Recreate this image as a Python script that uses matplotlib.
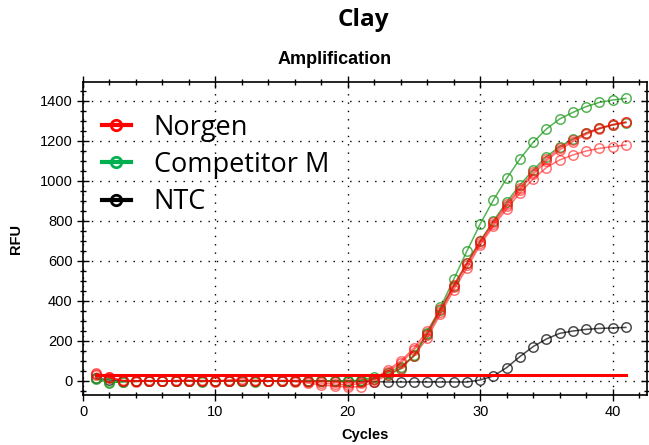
import matplotlib
matplotlib.use("Agg")
import matplotlib.pyplot as plt
from matplotlib.ticker import MultipleLocator
from matplotlib.lines import Line2D

# cycles 1..41
cycles = list(range(1, 42))

# Norgen replicates (RFU)
norgen_1 = [40, 20, 2, 0, 3, -2, 0, 4, 0, -3, 2, 12, 0, -2, 3, 0, -5, -10, -15, -20, -12, 5,
            45, 90, 155, 230, 347, 470, 580, 690, 785, 875, 955, 1033, 1100, 1155, 1197, 1233, 1260, 1280, 1293]
norgen_2 = [30, 15, 0, -3, 0, 2, -2, 0, 3, 0, -2, 0, 5, 2, 0, -3, -10, -20, -25, -30, -28, -5,
            30, 65, 125, 215, 335, 455, 565, 680, 775, 860, 940, 1010, 1067, 1105, 1130, 1150, 1163, 1172, 1180]
norgen_3 = [35, 18, 3, 2, -2, 0, 3, 2, -2, 2, 5, 3, -2, 0, 2, 3, -2, 0, -5, -8, -5, 10,
            55, 100, 165, 250, 360, 480, 590, 700, 795, 885, 965, 1045, 1110, 1165, 1205, 1240, 1265, 1283, 1295]

# Competitor M replicates (RFU)
compm_1 = [10, -10, -3, 0, 0, -2, 0, 0, -3, 0, 0, -2, 0, 0, 0, -2, 0, 0, 0, 0, 5, 20,
           40, 72, 125, 238, 368, 508, 650, 785, 905, 1013, 1110, 1193, 1260, 1310, 1343, 1372, 1393, 1405, 1413]
compm_2 = [15, -5, -5, -2, 0, 0, -2, 0, 0, -2, 0, 0, -3, 0, -2, 0, 0, -2, 0, 0, 2, 10,
           30, 60, 130, 235, 355, 475, 590, 700, 800, 895, 980, 1055, 1122, 1172, 1210, 1240, 1263, 1280, 1292]

# NTC (RFU)
ntc = [15, 5, 0, 0, 0, 0, 0, 0, 0, 0, 0, 0, 0, 0, 0, 0, 0, 0, 0, 0, -2, -3,
       -5, -5, -5, -5, -5, -5, -5, 5, 25, 67, 122, 172, 210, 238, 250, 258, 263, 265, 268]

threshold = 28
threshold_cycles = [1, 41]

fig = plt.figure(figsize=(6.49, 4.45), dpi=100)
ax = fig.add_axes([83 / 649, 50 / 445, 564 / 649, 313 / 445])

mk = dict(marker="o", markerfacecolor="none", markersize=6.8, markeredgewidth=1.1, linewidth=1.1)

ax.plot(cycles, ntc, color="black", alpha=0.7, **mk)
for s in (compm_1, compm_2):
    ax.plot(cycles, s, color="#1e9a1e", alpha=0.75, **mk)
for s in (norgen_1, norgen_2, norgen_3):
    ax.plot(cycles, s, color="#ff0000", alpha=0.55, **mk)

ax.plot(threshold_cycles, [threshold, threshold], color="#ff0000", linewidth=2.2)

ax.set_xlim(0, 42.6)
ax.set_ylim(-70, 1495)
ax.xaxis.set_major_locator(MultipleLocator(10))
ax.xaxis.set_minor_locator(MultipleLocator(2))
ax.yaxis.set_major_locator(MultipleLocator(200))
ax.yaxis.set_minor_locator(MultipleLocator(50))
ax.tick_params(which="both", direction="inout", top=True, right=True,
               labelsize=10.5, labelfontfamily="Liberation Sans", width=1)
ax.tick_params(which="major", length=8)
ax.tick_params(which="minor", length=5)
ax.grid(which="major", color="black", linestyle=(0, (1, 5)), linewidth=1)
for sp in ax.spines.values():
    sp.set_linewidth(1.2)

ax.set_xlabel("Cycles", fontsize=10.5, fontweight="bold", family="Liberation Sans", labelpad=6)
ax.set_ylabel("RFU", fontsize=10.5, fontweight="bold", family="Liberation Sans", labelpad=12)

fig.text(363 / 649, 1 - 20 / 445, "Clay", ha="center", va="center",
         fontsize=17.5, fontweight="bold", family="Open Sans")
fig.text(335 / 649, 1 - 60 / 445, "Amplification", ha="center", va="center",
         fontsize=13, fontweight="bold", family="Liberation Sans")

hk = dict(marker="o", markerfacecolor="none", markersize=7.5, markeredgewidth=2, linewidth=3)
handles = [
    Line2D([], [], color="#ff0000", **hk),
    Line2D([], [], color="#00b050", **hk),
    Line2D([], [], color="black", **hk),
]
ax.legend(handles, ["Norgen", "Competitor M", "NTC"], loc="upper left", bbox_to_anchor=(0.034, 0.899),
          frameon=False, prop={"family": "Open Sans", "size": 19.5}, handlelength=1.05,
          handletextpad=0.85, labelspacing=0.34, borderaxespad=0, borderpad=0)

fig.savefig("out.png", dpi=100)
